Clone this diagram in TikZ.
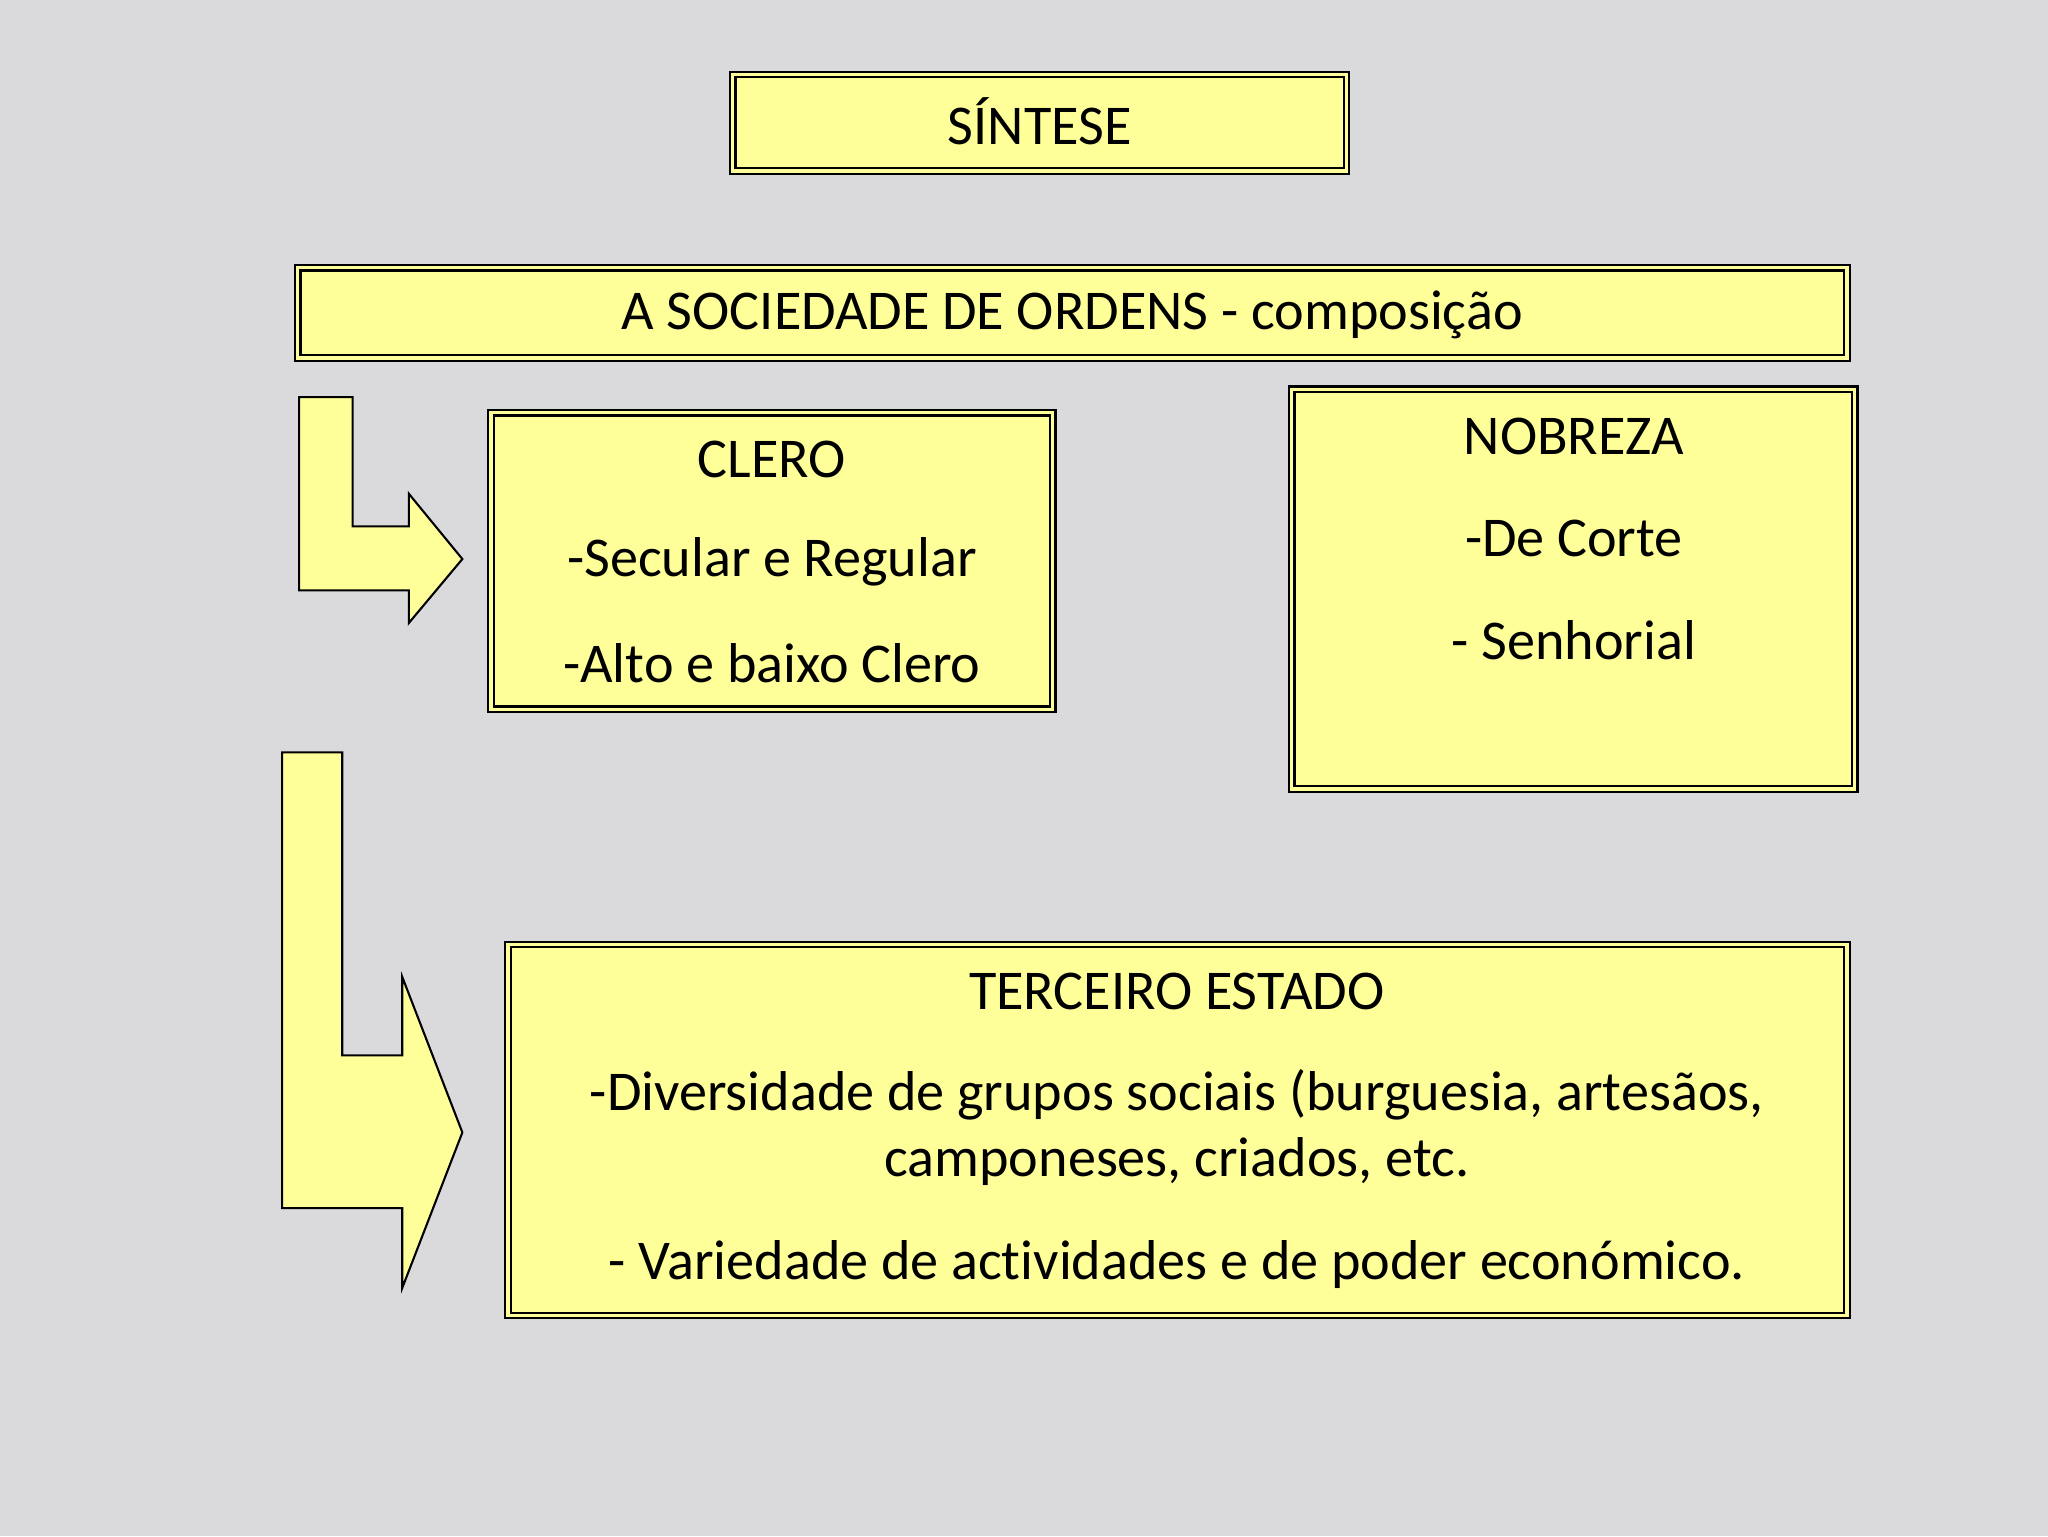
\documentclass[tikz,border=0pt]{standalone}
\usepackage{fontspec}
\setmainfont[Ligatures=NoCommon]{Carlito}
\definecolor{bg}{HTML}{DADADD}
\definecolor{yel}{HTML}{FFFF99}
\begin{document}
\begin{tikzpicture}[x=1pt,y=-1pt,
  dbox/.style={draw=black,fill=yel,line width=1.6pt,double=yel,double distance=2.6pt},
  txt/.style={font=\fontsize{43}{52}\selectfont,anchor=center},
  arr/.style={draw=black,fill=yel,line width=1.6pt}]
\fill[bg] (0,0) rectangle (1568,1176);
\useasboundingbox (0,0) rectangle (1568,1176);
\draw[dbox] (561,57) rectangle (1031,131);
\node[txt] (s) at (796,93) {SÍNTESE};
\draw[dbox] (228,205) rectangle (1414,274);
\node[txt] (t) at (821,241) {A SOCIEDADE DE ORDENS - composição};
\draw[dbox] (376,316) rectangle (806,543);
\node[txt] (c1) at (591,352) {CLERO};
\node[txt] (c2) at (591,430) {-Secular e Regular};
\node[txt] (c3) at (591,508) {-Alto e baixo Clero};
\draw[dbox] (989,298) rectangle (1420,604);
\node[txt] (n1) at (1205,334) {NOBREZA};
\node[txt] (n2) at (1205,412) {-De Corte};
\node[txt] (n3) at (1205,490) {- Senhorial};
\draw[dbox] (389,723) rectangle (1414,1007);
\node[txt] (e1) at (901,759) {TERCEIRO ESTADO};
\node[txt] (e2) at (901,838) {-Diversidade de grupos sociais (burguesia, artesãos,};
\node[txt] (e3) at (901,889) {camponeses, criados, etc.};
\node[txt] (e4) at (901,968) {- Variedade de actividades e de poder económico.};
\draw[arr] (229,304)--(270,304)--(270,403)--(313,403)--(313,378)--(354,428)--(313,477)--(313,452)--(229,452)--cycle;
\draw[arr] (216,576)--(262,576)--(262,808)--(308,808)--(308,748)--(354,867)--(308,986)--(308,925)--(216,925)--cycle;
\end{tikzpicture}
\end{document}
